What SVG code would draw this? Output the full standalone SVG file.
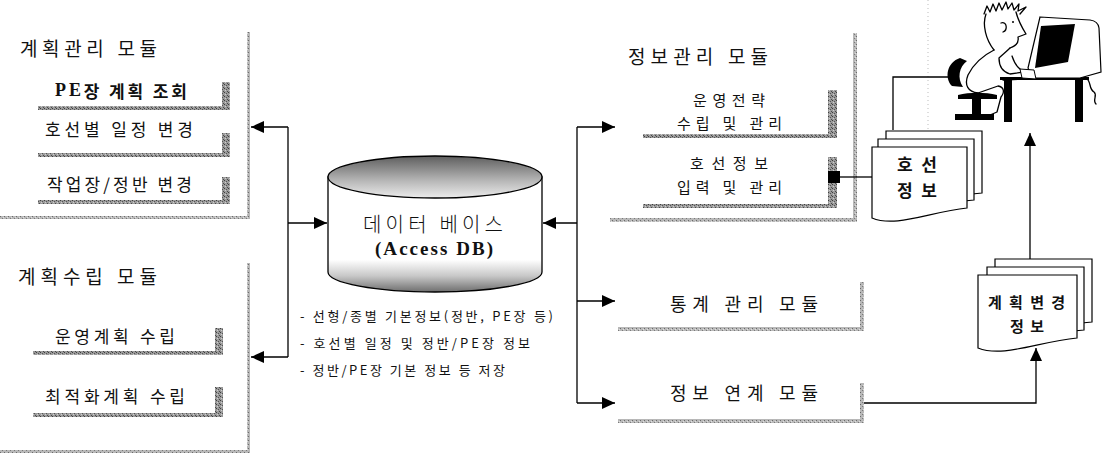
<svg xmlns="http://www.w3.org/2000/svg" width="1103" height="460" viewBox="0 0 1103 460">
  <defs>
    <!-- halftone grey used for the drop shadows of the menu items -->
    <pattern id="tone" width="4" height="4" patternUnits="userSpaceOnUse">
      <rect width="4" height="4" fill="#9a9a9a"/>
      <rect x="0" y="0" width="1" height="1" fill="#3e3e3e"/>
      <rect x="2" y="1" width="1" height="1" fill="#555"/>
      <rect x="3" y="3" width="1" height="1" fill="#4a4a4a"/>
      <rect x="1" y="2" width="1" height="1" fill="#cfcfcf"/>
    </pattern>
    <!-- lighter halftone for module frames -->
    <pattern id="tone2" width="4" height="4" patternUnits="userSpaceOnUse">
      <rect width="4" height="4" fill="#b8b8b8"/>
      <rect x="0" y="0" width="1" height="1" fill="#6a6a6a"/>
      <rect x="2" y="2" width="1" height="1" fill="#7a7a7a"/>
      <rect x="3" y="1" width="1" height="1" fill="#e0e0e0"/>
    </pattern>
    <linearGradient id="topg" x1="0" y1="0" x2="0" y2="1">
      <stop offset="0" stop-color="#5e5e5e"/>
      <stop offset="0.6" stop-color="#b8b8b8"/>
      <stop offset="1" stop-color="#ececec"/>
    </linearGradient>
    <linearGradient id="bodyg" x1="0" y1="0" x2="0" y2="1">
      <stop offset="0" stop-color="#ffffff"/>
      <stop offset="0.72" stop-color="#ffffff"/>
      <stop offset="0.86" stop-color="#c8c8c8"/>
      <stop offset="1" stop-color="#6e6e6e"/>
    </linearGradient>
    <marker id="ah" markerUnits="userSpaceOnUse" markerWidth="14" markerHeight="12" refX="13" refY="6" orient="auto">
      <path d="M0,0 L13,6 L0,12 Z" fill="#000"/>
    </marker>
    <style>
      .kr { font-family: "Noto Sans CJK KR", "Noto Sans", sans-serif; fill: #111; dominant-baseline: central; }
      .title { font-size: 19px; }
      .item { font-size: 17px; }
      .sub { font-size: 15px; }
      .note { font-size: 13px; }
      .sh { fill: url(#tone); }
      .fr { fill: url(#tone2); }
      .ln { fill: none; stroke: #000; stroke-width: 1.3; }
      .arr { fill: none; stroke: #000; stroke-width: 1.3; marker-end: url(#ah); }
      .doc { fill: #fff; stroke: #000; stroke-width: 1.2; }
      .ink { fill: none; stroke: #000; stroke-width: 1.3; stroke-linecap: round; stroke-linejoin: round; }
    </style>
  </defs>

  <rect width="1103" height="460" fill="#fff"/>

  <!-- 계획관리 모듈 -->
  <g id="plan-manage">
    <path class="fr" d="M247,32H250V219H0V216H247Z"/>
    <text class="kr title" x="20" y="47" textLength="137" lengthAdjust="spacing">계획관리 모듈</text>
    <g id="pm-pe">
      <path class="sh" d="M222,82H230V110H38V106H222Z"/>
      <text class="kr item" x="55" y="90" textLength="132" lengthAdjust="spacing" font-weight="bold"><tspan font-family="Liberation Serif, serif" font-size="18">PE</tspan>장 계획 조회</text>
    </g>
    <g id="pm-schedule">
      <path class="sh" d="M222,133H230V157H38V153H222Z"/>
      <text class="kr item" x="45" y="128" textLength="148" lengthAdjust="spacing">호선별 일정 변경</text>
    </g>
    <g id="pm-yard">
      <path class="sh" d="M222,177H230V204H38V200H222Z"/>
      <text class="kr item" x="47" y="183" textLength="145" lengthAdjust="spacing">작업장/정반 변경</text>
    </g>
  </g>

  <!-- 계획수립 모듈 -->
  <g id="plan-build">
    <path class="fr" d="M247,263H250V453H0V450H247Z"/>
    <text class="kr title" x="18" y="275" textLength="139" lengthAdjust="spacing">계획수립 모듈</text>
    <g id="pb-ops">
      <path class="sh" d="M215,328H223V355H33V351H215Z"/>
      <text class="kr item" x="55" y="335" textLength="120" lengthAdjust="spacing">운영계획 수립</text>
    </g>
    <g id="pb-opt">
      <path class="sh" d="M215,387H223V417H33V413H215Z"/>
      <text class="kr item" x="45" y="395" textLength="140" lengthAdjust="spacing">최적화계획 수립</text>
    </g>
  </g>

  <!-- 데이터 베이스 -->
  <g id="database">
    <path d="M328,177V272A107,20 0 0 0 542,272V177Z" fill="url(#bodyg)" stroke="#000" stroke-width="1.3"/>
    <ellipse cx="435" cy="177" rx="107" ry="21" fill="url(#topg)" stroke="#000" stroke-width="1.3"/>
    <text class="kr" x="363" y="223" font-size="20" font-weight="300" textLength="140" lengthAdjust="spacing">데이터 베이스</text>
    <text x="375" y="248" font-family="Liberation Serif, serif" font-weight="bold" font-size="19" dominant-baseline="central" fill="#111" textLength="118" lengthAdjust="spacing">(Access DB)</text>
    <text class="kr note" x="300" y="315" textLength="253" lengthAdjust="spacing">- 선형/종별 기본정보(정반, PE장 등)</text>
    <text class="kr note" x="300" y="342" textLength="230" lengthAdjust="spacing">- 호선별 일정 및 정반/PE장 정보</text>
    <text class="kr note" x="300" y="369" textLength="205" lengthAdjust="spacing">- 정반/PE장 기본 정보 등 저장</text>
  </g>

  <!-- 정보관리 모듈 -->
  <g id="info-manage">
    <path class="fr" d="M853,33H857V222H610V218H853Z"/>
    <text class="kr title" x="628" y="55" textLength="140" lengthAdjust="spacing">정보관리 모듈</text>
    <g id="im-strategy">
      <path class="sh" d="M828,90H837V138H643V134H828Z"/>
      <text class="kr sub" x="693" y="99" textLength="72" lengthAdjust="spacing">운영전략</text>
      <text class="kr sub" x="677" y="122" textLength="105" lengthAdjust="spacing">수립 및 관리</text>
    </g>
    <g id="im-hull">
      <path class="sh" d="M828,157H837V208H643V204H828Z"/>
      <text class="kr sub" x="690" y="162" textLength="78" lengthAdjust="spacing">호선정보</text>
      <text class="kr sub" x="677" y="186" textLength="105" lengthAdjust="spacing">입력 및 관리</text>
    </g>
  </g>

  <!-- 통계 관리 모듈 -->
  <g id="stats">
    <path class="fr" d="M860,282H864V331H618V327H860Z"/>
    <text class="kr" x="670" y="303" font-size="18" textLength="148" lengthAdjust="spacing">통계 관리 모듈</text>
  </g>

  <!-- 정보 연계 모듈 -->
  <g id="link">
    <path class="fr" d="M860,383H864V423H618V419H860Z"/>
    <text class="kr" x="670" y="392" font-size="18" textLength="148" lengthAdjust="spacing">정보 연계 모듈</text>
  </g>

  <!-- 호선 정보 문서 -->
  <g id="doc-hull">
    <path class="doc" d="M886,131H982V193C944,197 911,205 886,203Z"/>
    <path class="doc" d="M878,139H974V200C936,204 903,212 878,210Z"/>
    <path class="doc" d="M872,147H967V208C929,212 896,228 872,218Z"/>
    <text class="kr" x="897" y="163" font-size="17" font-weight="bold" textLength="40" lengthAdjust="spacing">호선</text>
    <text class="kr" x="897" y="189" font-size="17" font-weight="bold" textLength="40" lengthAdjust="spacing">정보</text>
  </g>

  <!-- 계획변경 정보 문서 -->
  <g id="doc-change">
    <path class="doc" d="M995,259H1092V322C1053,326 1020,334 995,332Z"/>
    <path class="doc" d="M987,267H1084V330C1045,334 1012,342 987,340Z"/>
    <path class="doc" d="M978,275H1077V338C1037,342 1003,358 978,348Z"/>
    <text class="kr" x="988" y="301" font-size="15" font-weight="bold" textLength="77" lengthAdjust="spacing">계획변경</text>
    <text class="kr" x="1010" y="325" font-size="15" font-weight="bold" textLength="34" lengthAdjust="spacing">정보</text>
  </g>

  <!-- 작업자와 컴퓨터 -->
  <g id="operator">
    <line x1="928" y1="0" x2="928" y2="130" stroke="#bdbdbd" stroke-width="1" stroke-dasharray="1 3"/>
    <path class="ln" d="M893,130V77H955" stroke-width="1"/>
    <!-- chair -->
    <path d="M960,58C947,62 944,78 952,86L963,87C957,78 959,67 967,61Z" fill="#000"/>
    <path d="M958,95C970,92 985,92 997,95V99H981V114H994V120H955V114H972V99H958Z" fill="#000"/>
    <!-- hair and head -->
    <path class="ink" d="M984,14L987,6L990,12L993,4L996,11L999,3L1002,10L1006,2L1008,9L1012,3L1014,10L1019,4L1018,11L1026,7L1020,14"/>
    <path class="ink" d="M986,14C982,25 986,40 994,50"/>
    <path class="ink" d="M1016,12C1018,20 1021,26 1026,34L1018,37C1019,42 1016,46 1010,48"/>
    <path class="ink" d="M1001,23C1007,21 1008,30 1003,32"/>
    <circle cx="1013" cy="22" r="1" fill="#000"/>
    <!-- body, arm and legs -->
    <path class="ink" d="M994,50C984,55 974,63 968,75C964,85 968,92 978,93"/>
    <path class="ink" d="M1010,48C1006,52 1002,55 999,58C999,66 1003,72 1010,74L1030,71"/>
    <path class="ink" d="M1003,80C1012,80 1022,79 1034,78"/>
    <path class="ink" d="M978,93L998,86C1004,87 1005,92 1001,97L997,112L990,115"/>
    <path class="ink" d="M1012,56C1014,62 1016,66 1020,69"/>
    <!-- desk -->
    <rect x="1000" y="77" width="89" height="3" fill="#000"/>
    <rect x="1004" y="79" width="8" height="43" fill="#000"/>
    <rect x="1075" y="79" width="8" height="43" fill="#000"/>
    <!-- monitor -->
    <path class="doc" d="M1040,17L1090,20Q1098,21 1099,28L1101,72L1080,78L1033,78L1028,68Z"/>
    <path d="M1041,26L1075,24L1068,62L1035,68Z" fill="#000"/>
    <path class="ink" stroke-width="1" d="M1086,78C1092,82 1088,88 1094,92C1098,95 1092,100 1096,104"/>
    <path d="M1020,69L1034,70L1036,79L1022,78Z" fill="#fff" stroke="#000" stroke-width="1"/>
  </g>

  <!-- connectors -->
  <g id="connectors">
    <path class="ln" d="M288,127V357"/>
    <path class="arr" d="M288,127H251"/>
    <path class="arr" d="M288,223H327"/>
    <path class="arr" d="M288,357H251"/>
    <path class="ln" d="M577,127V403"/>
    <path class="arr" d="M577,127H615"/>
    <path class="arr" d="M577,223H543"/>
    <path class="arr" d="M577,301H615"/>
    <path class="arr" d="M577,403H615"/>
    <path class="arr" d="M864,403H1036V348"/>
    <path class="arr" d="M1030,259V133"/>
    <path class="ln" d="M872,177H840"/>
    <rect x="828" y="171" width="12" height="12" fill="#000"/>
  </g>
</svg>
